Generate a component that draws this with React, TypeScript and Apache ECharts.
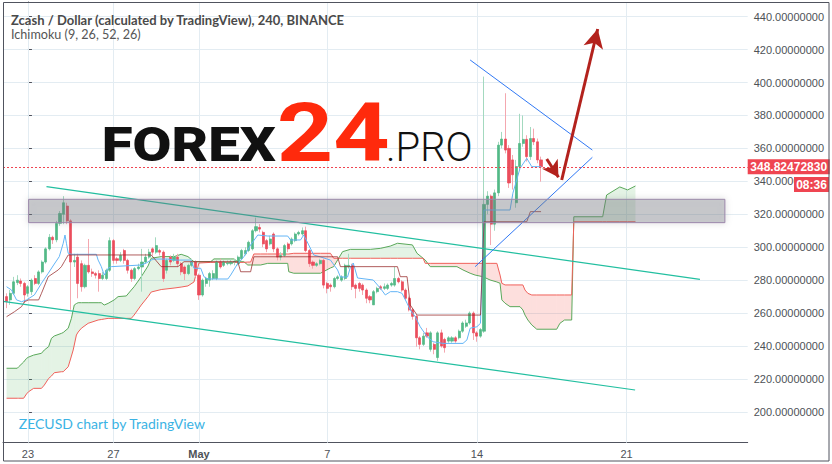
import { useEffect, useRef } from 'react';
import * as echarts from 'echarts';

// ---------- texts ----------
const TITLE = 'Zcash / Dollar (calculated by TradingView), 240, BINANCE';
const SUBTITLE = 'Ichimoku (9, 26, 52, 26)';
const WATERMARK = 'ZECUSD chart by TradingView';
const LOGO_A = 'FOREX';
const LOGO_B = '24';
const LOGO_C = '.PRO';

// ---------- x axis (index of 4h candle, 0 = Apr 23 00:00) ----------
const X_MIN = -7;
const X_MAX = 202;
const DAY_TICKS = [0, 24, 48, 84, 126, 168];
const DAY_LABELS = ['23', '27', 'May', '7', '14', '21'];
const BOLD_LABELS = ['May'];

// ---------- y axis ----------
const Y_MIN = 181.3;
const Y_MAX = 448.9;
const Y_STEP = 20;

// ---------- candles ----------
const FIRST_CANDLE = -6;
const OPEN = [
  270, 268, 272, 278.5, 279.5, 278, 272, 273, 281, 278, 285, 291, 299, 306, 304.5, 314.5, 320, 325, 316, 291,
  294, 290, 276, 289, 285, 284, 284, 281, 281, 286, 304, 293, 292, 298, 292, 286, 281, 287, 288, 291,
  294, 299, 297, 298, 297, 286, 294, 292, 294, 290, 288, 284, 289, 291, 283, 271, 278, 280, 281, 281,
  291, 289, 290, 290, 291, 290, 293, 296, 298, 299, 310, 312, 309, 304, 302, 308, 299, 294, 295, 302,
  302, 304, 308, 308, 310, 298, 291, 289, 290, 292, 278, 277, 276, 281, 280, 281, 288, 289, 277, 278,
  277, 274, 270, 265, 273, 276, 275, 275, 277, 277, 281, 279, 274, 269, 262, 258, 245, 241, 248, 238,
  241, 233, 248, 244, 243, 243, 245, 245, 249, 252, 254, 260, 248, 246, 249, 326, 331, 314, 333, 362,
  365.7, 360, 353, 327, 349, 363, 365.5, 355, 366, 364, 353,
];
const CLOSE = [
  267, 272, 279, 280, 278, 271, 276, 280, 278, 285, 291, 299, 306, 304.5, 314.5, 320.5, 327, 316, 291, 292,
  278, 276, 289, 285, 284, 283, 281, 283, 286, 304, 292, 292, 295, 292, 286, 281, 287, 288, 291, 294,
  297, 297, 301, 297, 281, 292, 291, 294, 290, 285, 284, 289, 291, 283, 271, 280, 281, 284, 284, 291,
  288, 291, 290.6, 291, 291.4, 294, 298, 298, 303, 310, 312.5, 311, 302, 299, 305, 299, 294, 295, 301, 299,
  305, 308, 309, 310, 298, 290, 289, 290, 292, 277, 275, 276, 281, 282, 282, 289, 289, 276, 275, 275,
  274, 269, 268, 273, 275, 275, 276, 277, 278, 281, 279, 274, 269, 262, 258, 245, 241, 246, 246, 248,
  238, 248, 240, 239, 245, 245, 243, 249, 254, 254, 260, 248, 246, 250, 326, 331, 314, 333, 362, 365.7,
  359, 339, 344, 349, 363, 365.5, 355, 366, 364, 353, 348.8247283,
];
const LOW = [
  263, 265, 271, 277, 276, 266, 270, 271, 277, 277, 284, 290, 298, 302, 303, 313, 314, 314, 262, 288,
  269, 273, 275, 284, 282, 281, 273, 280, 280, 285, 290, 290, 291, 290, 284, 279, 280, 286, 273, 290,
  293, 295, 296, 295, 279, 284, 289, 291, 288, 283, 280, 283, 288, 282, 268, 270, 276, 276, 280, 280,
  287, 288, 289, 289, 289, 289, 292, 295, 297, 298, 309, 309, 300, 297, 301, 297, 292, 292, 294, 297,
  301, 303, 307, 307, 297, 288, 287, 288, 289, 275, 272, 273, 275, 280, 279, 280, 287, 274, 269, 273,
  271, 266, 266, 264.9, 272, 274, 274, 274, 276, 276, 278, 273, 268, 261, 256, 239.6, 238, 240, 245, 236.6,
  235, 231, 239, 236, 242, 242, 242, 244, 248, 251, 253, 243.7, 242.6, 245, 248, 320, 301.3, 310, 331, 360,
  357, 336, 335, 324, 347, 361, 352, 353, 362, 351, 339.8,
];
const HIGH = [
  272, 274, 282, 283, 281, 279, 277, 281, 283, 286, 292, 300, 308, 307, 316, 322, 331, 327, 317, 296,
  296, 292, 290, 305, 287, 285, 286, 285, 287, 306, 305, 294, 297, 299, 293, 287, 288, 290, 299, 296,
  299, 300, 306, 299, 298, 293, 295, 296, 296, 291, 289, 290, 293, 292, 284, 281, 282, 285, 286, 292,
  293, 292, 292, 293, 293, 295, 299, 300, 304, 311, 318, 314, 310, 305, 307, 309, 300, 297, 302, 303,
  306, 309, 310, 312, 312.5, 299, 292, 291, 293, 293, 279, 278, 282, 283, 283, 290, 296, 290, 278, 279,
  278, 275, 271, 274, 276, 277, 278, 278, 279, 288, 282, 280, 275, 270, 263, 259, 246, 248, 251, 249,
  242, 249, 250, 245, 246, 246, 246, 250, 255, 256, 261, 261, 249, 251, 403.6, 334, 332, 335, 364, 370,
  393.5, 362, 356, 353, 381, 380, 368, 373, 372, 366, 355,
];

// ---------- Ichimoku ----------
const CLOUD_X = [
  -6, -3, -2.6, -1.2, -0.4, 0.2, 1.6, 3.8, 4.6, 5.8, 6.6, 7.4, 9.4, 9.9, 11.3, 12.2, 12.7, 13.0, 13.6, 14.1,
  15.0, 16.9, 19.7, 20.6, 21.4, 22.5, 24.2, 25.3, 27.6, 29.0, 29.8, 31.8, 33.7, 34.6, 37.4, 41.0, 43.0, 44.9, 46.6, 48.0,
  51.3, 52.2, 57.8, 58.9, 60.6, 61.7, 62.5, 63.4, 65.3, 67.3, 72.9, 73.2, 74.6, 82.1, 84.9, 85.8, 87.2, 88.3, 90.5, 96.1,
  98.9, 101.7, 103.7, 107.9, 109.2, 110.9, 111.5, 112.9, 120.4, 122.1, 124.1, 125.5, 127.7, 129.7, 131.6, 132.5, 133.0, 133.9, 135.3, 138.1,
  138.9, 139.5, 140.3, 141.4, 142.8, 148.4, 149.3, 150.6, 152.6, 153.2, 161.3, 162.4, 166.1, 168.3, 170.5,
];
const SPAN_A = [
  226.5, 226.5, 227.4, 230.3, 232.5, 233.3, 234.5, 235.6, 237.6, 239.6, 244.7, 246.1, 247.7, 248.2, 250.8, 256.8, 261.9, 264.9, 265.8, 266.3,
  266.3, 266.3, 266.3, 266.3, 264.9, 265.9, 268.0, 270.0, 270.4, 274.0, 276.0, 282.1, 288.6, 293.3, 294.3, 294.3, 295.7, 294.3, 291.2, 291.2,
  291.2, 292.9, 292.9, 291.2, 291.2, 289.2, 289.2, 289.2, 289.2, 290.2, 290.2, 285.1, 284.2, 284.2, 287.4, 288.2, 293.3, 297.3, 298.7, 298.7,
  299.3, 300.7, 302.4, 301.4, 296.3, 293.3, 292.2, 288.2, 288.2, 286.2, 284.2, 283.1, 282.1, 280.1, 278.9, 278.1, 268.0, 266.0, 263.9, 263.9,
  261.9, 258.8, 255.8, 252.8, 250.2, 250.2, 253.8, 255.8, 255.8, 318.5, 318.5, 331.7, 336.6, 334.8, 337.2,
];
const SPAN_B = [
  208.3, 208.3, 208.3, 208.3, 210.9, 212.3, 214.3, 214.3, 216.3, 220.3, 221.8, 223.8, 224.4, 224.4, 227.4, 233.9, 237.6, 240.6, 246.7, 248.5,
  250.8, 253.8, 255.8, 256.1, 256.4, 256.8, 256.8, 256.8, 256.8, 256.8, 258.8, 264.9, 270.0, 272.8, 274.3, 275.2, 275.8, 276.5, 278.9, 290.4,
  290.8, 290.8, 290.8, 290.8, 290.8, 291.0, 291.0, 295.9, 295.9, 295.9, 295.9, 295.9, 296.3, 296.3, 296.3, 293.3, 293.3, 293.3, 293.3, 293.3,
  293.3, 293.3, 293.3, 293.3, 293.3, 293.3, 290.2, 290.2, 290.2, 290.2, 290.2, 290.2, 290.2, 290.2, 290.2, 283.1, 278.1, 277.1, 277.1, 277.1,
  277.1, 274.0, 272.0, 271.0, 271.0, 271.0, 271.0, 271.0, 271.0, 315.5, 315.5, 315.5, 315.5, 315.5, 315.5,
];
const TENKAN_X = [
  -6, -4.6, -3.2, -1.8, -0.4, 1.8, 3.8, 5.7, 7.4, 8.8, 9.9, 10.4, 10.8, 11.3, 12.2, 19.2, 19.7, 20.6, 21.4, 22.5,
  23.4, 31.8, 33.2, 34.6, 35.4, 39.3, 41.0, 45.7, 46.6, 48.5, 49.4, 50.5, 56.1, 56.9, 58.9, 60.6, 62.5, 64.5, 67.3, 72.9,
  73.7, 76.5, 77.4, 78.8, 80.2, 82.1, 84.9, 86.9, 87.7, 89.7, 90.5, 91.3, 92.5, 96.9, 98.9, 100.3, 101.7, 103.7, 105.0, 106.4,
  107.3, 108.7, 110.1, 112.0, 113.7, 116.5, 122.1, 123.2, 124.1, 126.0, 127.0, 128.0, 135.3, 136.1, 138.1, 140.0, 141.4, 144,
];
const TENKAN = [
  276.0, 274.0, 268.0, 266.9, 268.0, 271.0, 278.1, 284.2, 289.8, 294.3, 302.4, 307.4, 302.4, 296.3, 295.7, 295.7, 292.2, 288.2, 283.1, 287.2,
  288.2, 289.2, 290.4, 292.2, 292.8, 292.8, 292.2, 292.2, 287.2, 287.2, 282.1, 280.7, 280.7, 283.1, 290.2, 294.2, 301.4, 307.4, 306.8, 306.8,
  304.4, 304.4, 307.4, 301.4, 295.3, 294.1, 292.2, 286.2, 281.9, 281.9, 288.0, 290.4, 281.3, 280.1, 275.1, 271.0, 273.0, 273.0, 272.0, 266.0,
  261.9, 257.8, 251.7, 245.7, 242.6, 241.6, 241.6, 243.7, 250.8, 251.7, 253.8, 322.6, 322.6, 332.8, 347.9, 354.0, 348.9, 348.9,
];
const KIJUN_X = [
  -6, -3.8, -1.8, -1.0, 0.2, 3.0, 3.8, 5.7, 8.5, 9.4, 10.2, 11.3, 34.6, 35.4, 37.4, 42.1, 43.8, 58.9, 59.7, 62.5,
  63.4, 86.9, 87.7, 103.7, 104.5, 106.4, 107.3, 109.2, 127.0, 128.0, 140.0, 141.0, 144,
];
const KIJUN = [
  257.8, 260.8, 263.9, 266.9, 268.0, 268.0, 272.0, 282.1, 286.2, 288.2, 291.2, 295.3, 295.3, 293.3, 288.2, 288.2, 291.2, 291.2, 285.1, 285.1,
  294.2, 294.2, 288.2, 288.2, 282.1, 282.1, 264.9, 258.8, 258.8, 315.5, 315.5, 321.6, 321.6,
];

// ---------- drawings (in candle index / price) ----------
const ZONE_X = [0.2, 195.6];
const ZONE_Y = [314.9, 329.1];
const CHANNEL_UPPER = [[5.2, 336.8], [188.6, 280.5]];
const CHANNEL_LOWER = [[-7, 267.1], [170.4, 213.3]];
const WEDGE_UPPER = [[124.1, 413.7], [158.4, 359.0]];
const WEDGE_LOWER = [[125.5, 288.2], [158.4, 354.6]];
const ARROW_UP = [[149.8, 340.8], [159.9, 432.5]];
const ARROW_DOWN = [[145.6, 353.6], [148.9, 342.5]];

const LAST_PRICE = 348.8247283;
const TIMER = '08:36';
const TIMER_LEVEL = 338.1;

// ---------- styles ----------
const UP = '#53b987';
const DOWN = '#eb4d5c';
const UP_WICK = '#a3d9bf';
const DOWN_WICK = '#f4a7af';
const CLOUD_UP = 'rgba(76,175,80,0.15)';
const CLOUD_DOWN = 'rgba(244,67,54,0.17)';
const GRID_COLOR = '#e3ecf2';
const AXIS_COLOR = '#50535e';
const TEXT_COLOR = '#4e5257';
const PRICE_RED = '#ef4551';
const TEAL = '#22bfa0';
const BLUE = '#3179f5';
const ARROW = '#b3221d';
const AXIS_FONT = '"Liberation Sans", Arial, sans-serif';
const UI_FONT = 'Lato, "Open Sans", sans-serif';
const LOGO_FONT = 'Roboto, "Noto Sans", sans-serif';

function buildOption() {
  const candles = OPEN.map((o, i) => [FIRST_CANDLE + i, o, CLOSE[i], LOW[i], HIGH[i]]);
  const bodies = OPEN.map((o, i) => [FIRST_CANDLE + i, o, CLOSE[i], Math.min(o, CLOSE[i]), Math.max(o, CLOSE[i])]);
  const cloudRows = CLOUD_X.slice(0, -1).map((x, i) => [x, SPAN_A[i], SPAN_B[i], CLOUD_X[i + 1], SPAN_A[i + 1], SPAN_B[i + 1]]);
  const pair = (xs: number[], ys: number[]) => xs.map((x, i) => [x, ys[i]]);

  const seg = (pts: number[][], color: string, width: number) => [
    { coord: pts[0], lineStyle: { color, width, type: 'solid' } },
    { coord: pts[1] },
  ];
  const arrow = (pts: number[][], size: number[]) => [
    { coord: pts[0], symbol: 'none', lineStyle: { color: ARROW, width: 3, type: 'solid' } },
    { coord: pts[1], symbol: 'arrow', symbolSize: size, itemStyle: { color: ARROW } },
  ];
  const redBox = (width: number) => ({
    width,
    align: 'center',
    backgroundColor: PRICE_RED,
    color: '#fff',
    fontWeight: 'bold',
    fontSize: 12,
    fontFamily: AXIS_FONT,
    padding: [2, 4, 1, 4],
  });

  return {
    animation: false,
    backgroundColor: '#ffffff',
    grid: { left: 3, right: 84.3, top: 2, bottom: 21.3, containLabel: false, outerBoundsMode: 'none' },
    xAxis: {
      type: 'value',
      min: X_MIN,
      max: X_MAX,
      minInterval: 6,
      maxInterval: 6,
      axisLine: { show: true, lineStyle: { color: AXIS_COLOR, width: 1 } },
      axisTick: { show: false },
      splitLine: { show: false },
      axisLabel: {
        margin: 6,
        fontSize: 11,
        fontFamily: AXIS_FONT,
        color: TEXT_COLOR,
        formatter: (v: number) => {
          const k = DAY_TICKS.indexOf(Math.round(v));
          if (k < 0 || Math.abs(v - DAY_TICKS[k]) > 1e-6) return '';
          const t = DAY_LABELS[k];
          return BOLD_LABELS.includes(t) ? `{b|${t}}` : t;
        },
        rich: { b: { fontWeight: 'bold', fontSize: 11, fontFamily: AXIS_FONT, color: TEXT_COLOR } },
      },
    },
    yAxis: {
      type: 'value',
      position: 'right',
      min: Y_MIN,
      max: Y_MAX,
      minInterval: Y_STEP,
      maxInterval: Y_STEP,
      axisLine: { show: true, lineStyle: { color: AXIS_COLOR, width: 1 } },
      axisTick: { show: true, length: 4, lineStyle: { color: AXIS_COLOR } },
      splitLine: { show: true, lineStyle: { color: GRID_COLOR, width: 1 } },
      axisLabel: {
        margin: 6,
        fontSize: 11,
        fontFamily: AXIS_FONT,
        color: TEXT_COLOR,
        formatter: (v: number) => (Math.abs(v / Y_STEP - Math.round(v / Y_STEP)) < 1e-6 ? v.toFixed(8) : ''),
      },
    },
    series: [
      {
        type: 'custom',
        name: 'cloud',
        z: 1,
        silent: true,
        clip: true,
        encode: { x: [0, 3], y: [1, 2, 4, 5] },
        data: cloudRows,
        renderItem: (_params: any, api: any) => {
          const x0 = api.value(0), a0 = api.value(1), b0 = api.value(2);
          const x1 = api.value(3), a1 = api.value(4), b1 = api.value(5);
          const d0 = a0 - b0;
          const d1 = a1 - b1;
          const poly = (pts: number[][], up: boolean) => ({
            type: 'polygon',
            shape: { points: pts.map((p) => api.coord(p)) },
            style: { fill: up ? CLOUD_UP : CLOUD_DOWN },
          });
          if (d0 * d1 >= 0) {
            return poly([[x0, a0], [x1, a1], [x1, b1], [x0, b0]], d0 + d1 >= 0);
          }
          const t = d0 / (d0 - d1);
          const xm = x0 + t * (x1 - x0);
          const ym = a0 + t * (a1 - a0);
          return {
            type: 'group',
            children: [poly([[x0, a0], [xm, ym], [x0, b0]], d0 > 0), poly([[xm, ym], [x1, a1], [x1, b1]], d1 > 0)],
          };
        },
      },
      {
        type: 'line',
        name: 'Lead A',
        z: 2,
        silent: true,
        showSymbol: false,
        data: pair(CLOUD_X, SPAN_A),
        lineStyle: { color: '#5aa85a', width: 1 },
        markLine: {
          silent: true,
          z: 0.5,
          symbol: ['none', 'none'],
          label: { show: false },
          lineStyle: { color: GRID_COLOR, width: 1, type: 'solid' },
          data: DAY_TICKS.map((v) => ({ xAxis: v })),
        },
      },
      {
        type: 'line',
        name: 'Lead B',
        z: 2,
        silent: true,
        showSymbol: false,
        data: pair(CLOUD_X, SPAN_B),
        lineStyle: { color: '#f0605a', width: 1 },
        markLine: {
          silent: true,
          z: 5,
          symbol: ['none', 'none'],
          data: [
            {
              yAxis: LAST_PRICE,
              lineStyle: { color: PRICE_RED, width: 1, type: [2, 2] },
              label: {
                show: true,
                position: 'end',
                distance: 0,
                formatter: `{p|${LAST_PRICE.toFixed(8)}}`,
                rich: { p: redBox(74) },
              },
            },
          ],
        },
      },
      {
        type: 'candlestick',
        name: 'wicks',
        z: 3,
        silent: true,
        barWidth: 1,
        encode: { x: 0, y: [1, 2, 3, 4] },
        data: candles,
        itemStyle: { color: UP_WICK, color0: DOWN_WICK, borderColor: UP_WICK, borderColor0: DOWN_WICK, borderWidth: 1 },
      },
      {
        type: 'candlestick',
        name: 'ZECUSD',
        z: 3,
        silent: true,
        barWidth: 2.6,
        encode: { x: 0, y: [1, 2, 3, 4] },
        data: bodies,
        itemStyle: { color: UP, color0: DOWN, borderColor: UP, borderColor0: DOWN, borderWidth: 0.7 },
        markLine: {
          silent: true,
          z: 8,
          symbol: ['none', 'none'],
          data: [
            {
              yAxis: TIMER_LEVEL,
              lineStyle: { color: 'rgba(0,0,0,0)', width: 1, type: 'solid' },
              label: {
                show: true,
                position: 'end',
                distance: 46.3,
                formatter: `{t|${TIMER}}`,
                rich: { t: redBox(27) },
              },
            },
          ],
        },
      },
      {
        type: 'line',
        name: 'Conversion',
        z: 4,
        silent: true,
        showSymbol: false,
        data: pair(TENKAN_X, TENKAN),
        lineStyle: { color: '#64b5f6', width: 1 },
        markLine: {
          silent: true,
          z: 6,
          symbol: ['none', 'none'],
          label: { show: false },
          data: [
            seg(CHANNEL_UPPER, TEAL, 1.2),
            seg(CHANNEL_LOWER, TEAL, 1.2),
            seg(WEDGE_UPPER, BLUE, 1),
            seg(WEDGE_LOWER, BLUE, 1),
            arrow(ARROW_UP, [15, 19]),
            arrow(ARROW_DOWN, [14, 16]),
          ],
        },
      },
      {
        type: 'line',
        name: 'Base',
        z: 4,
        silent: true,
        showSymbol: false,
        data: pair(KIJUN_X, KIJUN),
        lineStyle: { color: 'rgba(150,40,40,0.75)', width: 1 },
        markArea: {
          silent: true,
          z: 7,
          itemStyle: {
            color: 'rgba(120,122,134,0.35)',
            borderColor: '#9a86a8',
            borderWidth: 1,
            shadowBlur: 6,
            shadowColor: 'rgba(0,0,0,0.25)',
          },
          data: [[{ coord: [ZONE_X[0], ZONE_Y[1]] }, { coord: [ZONE_X[1], ZONE_Y[0]] }]],
        },
      },
    ],
    graphic: [
      {
        type: 'rect',
        silent: true,
        z: 100,
        shape: { x: 3.5, y: 2.5, width: 825.5, height: 458.5 },
        style: { fill: 'none', stroke: AXIS_COLOR, lineWidth: 1 },
      },
      {
        type: 'text', silent: true, z: 100, x: 11, y: 19.5,
        style: { text: TITLE, font: `bold 13px ${UI_FONT}`, fill: '#4a4a4a', verticalAlign: 'middle', textVerticalAlign: 'middle' },
      },
      {
        type: 'text', silent: true, z: 100, x: 11, y: 34.5,
        style: { text: SUBTITLE, font: `12.6px ${UI_FONT}`, fill: '#555', verticalAlign: 'middle', textVerticalAlign: 'middle' },
      },
      {
        type: 'text', silent: true, z: 100, x: 18.7, y: 423.4,
        style: { text: WATERMARK, font: `14px ${UI_FONT}`, fill: '#3bb3e4', verticalAlign: 'middle', textVerticalAlign: 'middle' },
      },
      {
        type: 'text', silent: true, z: 100, x: 101.7, y: 144.2, scaleX: 1.15,
        style: { text: LOGO_A, font: `900 49px ${LOGO_FONT}`, fill: '#111111', verticalAlign: 'middle', textVerticalAlign: 'middle' },
      },
      {
        type: 'text', silent: true, z: 100, x: 276.7, y: 133.3, scaleX: 1.2,
        style: { text: LOGO_B, font: `bold 82px ${LOGO_FONT}`, fill: '#ff2a0c', verticalAlign: 'middle', textVerticalAlign: 'middle' },
      },
      {
        type: 'text', silent: true, z: 100, x: 386, y: 147.5,
        style: { text: LOGO_C, font: `300 40px ${LOGO_FONT}`, fill: '#111111', verticalAlign: 'middle', textVerticalAlign: 'middle' },
      },
    ],
  };
}

export default function App() {
  const ref = useRef<HTMLDivElement>(null);
  useEffect(() => {
    if (!ref.current) return;
    const chart = echarts.init(ref.current, null, { renderer: 'svg' });
    chart.setOption(buildOption() as any);
    return () => chart.dispose();
  }, []);
  return (
    <div
      ref={ref}
      style={{ position: 'fixed', left: 0, top: 0, width: 832, height: 464, background: '#ffffff' }}
    />
  );
}
